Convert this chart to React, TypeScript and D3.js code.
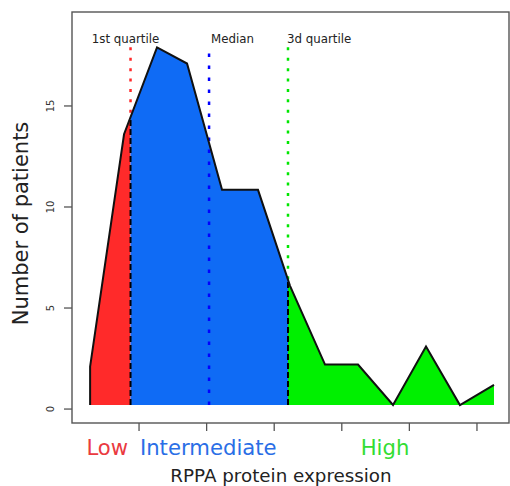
import React from "react";
import * as d3 from "d3";

// RPPA protein expression (arbitrary units; x ticks are unlabeled)
const expression = [-1.362, -1.111, -0.867, -0.645, -0.386, -0.12, 0.117, 0.376, 0.62, 0.879, 1.123, 1.374, 1.626];
// Number of patients at each expression value
const patients = [2.1, 13.6, 17.9, 17.1, 10.85, 10.85, 6.1, 2.2, 2.2, 0.2, 3.1, 0.2, 1.2];

const quartileValues = [-1.063, -0.482, 0.102];
const quartileLabels = ["1st quartile", "Median", "3d quartile"];
const quartileColors = ["#ff2a2a", "#0000ff", "#00e600"];

const groupLabels = ["Low", "Intermediate", "High"];
const groupFills = ["#ff2a2a", "#0f6bf5", "#00f000"];
const groupText = ["#ea3a3f", "#2a6ee6", "#33dd33"];

const yTicks = [0, 5, 10, 15];
const xTicks = [-1, -0.5, 0, 0.5, 1, 1.5];

const W = 510;
const H = 486;
const box = { left: 72, right: 509, top: 12, bottom: 423 };
const labelShift = [-3, -1, -6];

export default function App() {
  const x = d3.scaleLinear().domain([-1.496, 1.737]).range([box.left, box.right]);
  const y = d3.scaleLinear().domain([-0.69, 19.65]).range([box.bottom, box.top]);

  const pts = expression.map((e, i) => [e, patients[i]] as [number, number]);
  const base = d3.min(patients) as number;
  const maxV = d3.max(patients) as number;
  const interp = (v: number) => {
    const i = d3.bisectRight(expression, v) - 1;
    const j = Math.min(i + 1, expression.length - 1);
    const t = (v - expression[i]) / (expression[j] - expression[i] || 1);
    return patients[i] + t * (patients[j] - patients[i]);
  };

  const area = d3
    .area<[number, number]>()
    .x((d) => x(d[0]))
    .y0(y(base))
    .y1((d) => y(d[1]));
  const line = d3
    .line<[number, number]>()
    .x((d) => x(d[0]))
    .y((d) => y(d[1]));
  const outline = line([[expression[0], base], ...pts]) as string;

  const bounds = [expression[0], ...quartileValues.filter((_, i) => i !== 1), expression[expression.length - 1]];

  const font = "DejaVu Sans, sans-serif";

  return (
    <svg width={W} height={H} style={{ position: "absolute", left: 0, top: 0, background: "#fff" }}>
      <defs>
        {groupLabels.map((g, i) => (
          <clipPath id={`clip${i}`} key={g}>
            <rect x={x(bounds[i])} y={0} width={x(bounds[i + 1]) - x(bounds[i])} height={H} />
          </clipPath>
        ))}
      </defs>
      {/* colored vertical quartile guides */}
      {quartileValues.map((q, i) =>
        i === 1 ? null : (
          <line
            key={`g${i}`}
            x1={x(q)}
            x2={x(q)}
            y1={y(maxV)}
            y2={y(interp(q))}
            stroke={quartileColors[i]}
            strokeWidth={2.5}
            strokeDasharray="3,7.4"
          />
        )
      )}
      {/* filled areas */}
      {groupLabels.map((g, i) => (
        <path key={g} d={area(pts) as string} fill={groupFills[i]} clipPath={`url(#clip${i})`} />
      ))}
      {/* median line */}
      <path
        d={`M${x(quartileValues[1])},${y(base)}V${y(maxV)}`}
        stroke={quartileColors[1]}
        strokeWidth={2.5}
        strokeDasharray="3.5,8.5"
        fill="none"
      />
      {/* black dashed boundaries */}
      {[0, 2].map((i) => (
        <line
          key={`b${i}`}
          x1={x(quartileValues[i])}
          x2={x(quartileValues[i])}
          y1={y(base)}
          y2={y(interp(quartileValues[i]))}
          stroke="#000"
          strokeWidth={2}
          strokeDasharray="6,3"
        />
      ))}
      <path d={outline} fill="none" stroke="#111" strokeWidth={2} strokeLinejoin="miter" />
      {/* quartile labels */}
      <text x={x(quartileValues[0]) - 5} y={43} fontFamily={font} fontSize={11.8} fill="#222" textAnchor="middle">
        {quartileLabels[0]}
      </text>
      <text x={x(quartileValues[1]) + 2} y={43} fontFamily={font} fontSize={11.8} fill="#222">
        {quartileLabels[1]}
      </text>
      <text x={x(quartileValues[2]) - 1} y={43} fontFamily={font} fontSize={11.8} fill="#222">
        {quartileLabels[2]}
      </text>
      {/* box */}
      <rect
        x={box.left}
        y={box.top}
        width={box.right - box.left}
        height={box.bottom - box.top}
        fill="none"
        stroke="#555"
        strokeWidth={1.4}
      />
      {/* y axis */}
      {yTicks.map((t) => (
        <g key={`y${t}`}>
          <line x1={box.left - 8} x2={box.left} y1={y(t)} y2={y(t)} stroke="#555" strokeWidth={1.3} />
          <text
            transform={`translate(${54},${y(t)}) rotate(-90)`}
            textAnchor="middle"
            fontFamily={font}
            fontSize={10}
            fill="#333"
          >
            {t}
          </text>
        </g>
      ))}
      {/* x axis ticks */}
      {xTicks.map((t) => (
        <line key={`x${t}`} x1={x(t)} x2={x(t)} y1={box.bottom} y2={box.bottom + 8} stroke="#555" strokeWidth={1.3} />
      ))}
      {/* group labels */}
      {groupLabels.map((g, i) => (
        <text
          key={`l${g}`}
          x={(x(bounds[i]) + x(bounds[i + 1])) / 2 + labelShift[i]}
          y={455}
          textAnchor="middle"
          fontFamily={font}
          fontSize={21.2}
          fill={groupText[i]}
        >
          {g}
        </text>
      ))}
      <text x={281} y={482} textAnchor="middle" fontFamily={font} fontSize={18.3} fill="#222">
        RPPA protein expression
      </text>
      <text
        transform={`translate(${28},${223.5}) rotate(-90)`}
        textAnchor="middle"
        fontFamily={font}
        fontSize={21}
        fill="#222"
      >
        Number of patients
      </text>
    </svg>
  );
}
